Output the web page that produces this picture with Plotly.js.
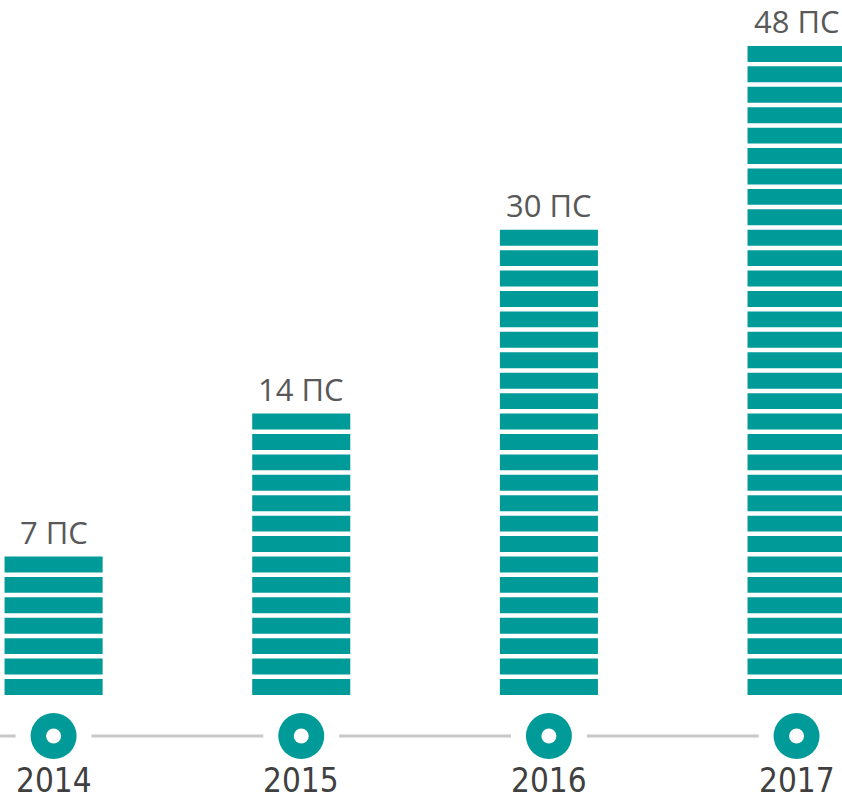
<!DOCTYPE html>
<html>
<head>
<meta charset="utf-8">
<script src="https://cdn.plot.ly/plotly-3.0.1.min.js"></script>
<style>
  html, body { margin: 0; padding: 0; background: #ffffff; }
  #chart { width: 842px; height: 803px; }
</style>
</head>
<body>
<div id="chart"></div>
<script>
// ---- data ----
const years = ['2014', '2015', '2016', '2017'];
const counts = [7, 14, 30, 48];          // value shown above each bar
const segments = [7, 14, 23, 32];        // number of stacked blocks drawn in each bar
const unit = 'ПС';

// ---- style ----
const TEAL = '#009b98';
const segH = 0.78;       // block height (in block units), rest is the white gap
const timelineY = -2.01;
const yBottom = -5.29;

const idx = years.map((_, i) => i);

// build block bars (one trace, many blocks)
const segX = [], segBase = [], segY = [];
segments.forEach((n, i) => {
  for (let k = 0; k < n; k++) {
    segX.push(i);
    segBase.push(k);
    segY.push(segH);
  }
});

const traces = [
  {
    type: 'bar',
    x: segX,
    y: segY,
    base: segBase,
    width: 0.396,
    marker: { color: TEAL, line: { width: 0 } },
    hoverinfo: 'skip'
  },
  { // white halo that cuts the timeline around each dot
    type: 'scatter', mode: 'markers',
    x: idx, y: idx.map(() => timelineY),
    marker: { size: 76, color: '#ffffff', line: { width: 0 } },
    hoverinfo: 'skip'
  },
  {
    type: 'scatter', mode: 'markers',
    x: idx, y: idx.map(() => timelineY),
    marker: { size: 46, color: TEAL, line: { width: 0 } },
    hoverinfo: 'skip'
  },
  {
    type: 'scatter', mode: 'markers',
    x: idx, y: idx.map(() => timelineY),
    marker: { size: 15, color: '#ffffff', line: { width: 0 } },
    hoverinfo: 'skip'
  }
];

const annotations = [];
idx.forEach(i => {
  annotations.push({
    x: i, y: segments[i] - 1 + segH,
    xref: 'x', yref: 'y',
    text: counts[i] + ' ' + unit,
    showarrow: false,
    xanchor: 'center', yanchor: 'bottom',
    yshift: 2,
    font: { family: 'Open Sans, Noto Sans, sans-serif', size: 31, color: '#595959' }
  });
  annotations.push({
    x: i, y: yBottom,
    xref: 'x', yref: 'y',
    text: years[i],
    showarrow: false,
    xanchor: 'center', yanchor: 'bottom',
    yshift: 1,
    font: { family: 'Liberation Sans Narrow, DejaVu Sans Condensed, Arial Narrow, sans-serif', size: 33, color: '#404040' }
  });
});

const layout = {
  width: 842, height: 803,
  margin: { l: 0, r: 0, t: 0, b: 0, pad: 0 },
  paper_bgcolor: '#ffffff', plot_bgcolor: '#ffffff',
  showlegend: false,
  barmode: 'overlay',
  xaxis: { range: [-0.2164, 3.1835], visible: false, fixedrange: true },
  yaxis: { range: [yBottom, 34.03], visible: false, fixedrange: true },
  shapes: [{
    type: 'line', xref: 'x', yref: 'y', layer: 'below',
    x0: -0.3, x1: 3, y0: timelineY, y1: timelineY,
    line: { color: '#c8c8c8', width: 3 }
  }],
  annotations: annotations
};

Plotly.newPlot('chart', traces, layout, { staticPlot: true, displayModeBar: false });
</script>
</body>
</html>
